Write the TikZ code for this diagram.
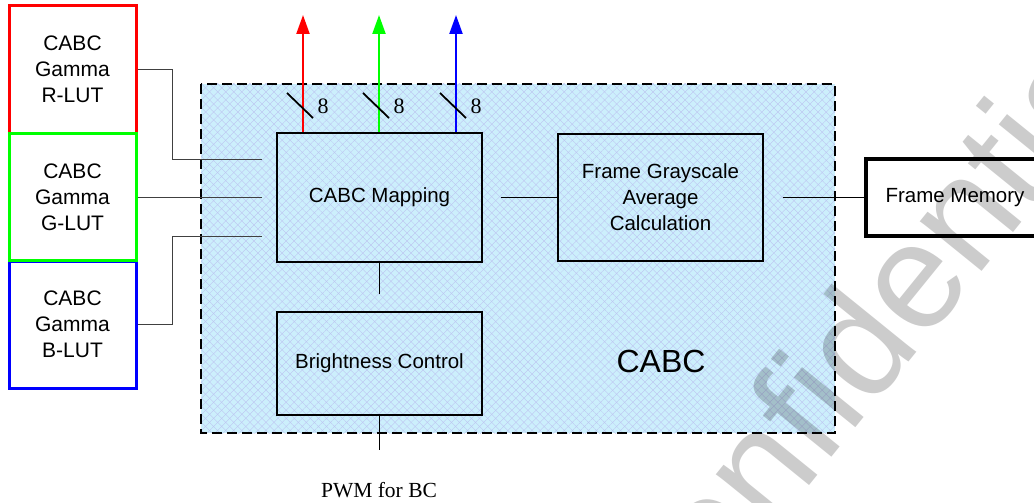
\documentclass[tikz,border=0pt]{standalone}
\usepackage{fontspec}
\setmainfont{Liberation Sans}
\newfontfamily\tnr{Liberation Serif}
\usetikzlibrary{arrows.meta,patterns.meta}
\definecolor{hatch}{RGB}{188,194,240}
\tikzset{
  lut/.style={draw, line width=3pt, minimum width=127pt, minimum height=127pt, align=center, font=\fontsize{21}{26}\selectfont},
  blk/.style={draw, line width=1.8pt, align=center, font=\fontsize{20.5}{26}\selectfont},
  wire/.style={black!75, line width=0.9pt},
  link/.style={black, line width=1.8pt},
  bus/.style={line width=2.3pt, -{Triangle[length=19pt,width=13pt]}},
}

\begin{document}
\begin{tikzpicture}[x=1pt,y=-1pt]
	\useasboundingbox (0,0) rectangle (1034,503);
	\clip (0,0) rectangle (1034,503);
	% CABC region
	\fill[cyan!20] (201,84) rectangle (835,433);
	\fill[pattern={Lines[angle=45,distance=5.7pt,line width=0.35pt]}, pattern color=hatch] (201,84) rectangle (835,433);
	\fill[pattern={Lines[angle=-45,distance=5.7pt,line width=0.35pt]}, pattern color=hatch] (201,84) rectangle (835,433);
	\draw[line width=2pt, dash pattern=on 10pt off 5pt] (201,84) rectangle (835,433);
	\node[font=\fontsize{32}{32}\selectfont] (cabc) at (661,361) {CABC};
	% gamma LUTs
	\node[lut, red] (rlut) at (72.5,69.5) {\color{black}CABC\\\color{black}Gamma\\\color{black}R-LUT};
	\node[lut, blue] (blut) at (72.5,324.5) {\color{black}CABC\\\color{black}Gamma\\\color{black}B-LUT};
	\node[lut, green] (glut) at (72.5,197) {\color{black}CABC\\\color{black}Gamma\\\color{black}G-LUT};
	% blocks
	\node[blk, minimum width=205pt, minimum height=129pt] (map) at (379.5,197.5) {CABC Mapping};
	\node[blk, minimum width=205pt, minimum height=127pt] (fga) at (660.5,197.5) {Frame Grayscale\\Average\\Calculation};
	\node[blk, minimum width=205pt, minimum height=103pt] (bc) at (379.5,363.5) {Brightness Control};
	\node[blk, line width=3.5pt, minimum width=178pt, minimum height=77pt] (fmem) at (955,197.5) {Frame Memory};
	% LUT inputs
	\coordinate (rin) at (262,159);
	\coordinate (gin) at (262,197);
	\coordinate (bin) at (262,236);
	\draw[wire] (rlut.east) -| (172,159) -- (rin);
	\draw[wire] (glut.east) -- (gin);
	\draw[wire] (blut.east) -| (172,236) -- (bin);
	% data path
	\draw[link] ([xshift=18pt]map.east) -- (fga.west);
	\draw[link] ([xshift=19pt]fga.east) -- (fmem.west);
	\draw[link] (map.south) -- ++(0,31);
	\draw[link] (bc.south) -- ++(0,34);
	\node[font=\tnr\fontsize{21.5}{21.5}\selectfont] (pwm) at (379,490) {PWM for BC};
	% RGB outputs
	\foreach \c/\x in {red/303,green/379,blue/456} {
		\draw[bus, \c] (\x,0 |- map.north) -- (\x,15);
		\draw[line width=1.8pt] (\x-16,93) -- (\x+10,118);
		\node[font=\tnr\fontsize{22}{22}\selectfont] at (\x+20,106) {8};
	}
	% watermark
	\node[rotate=51, font=\fontsize{150}{150}\selectfont, text=black, opacity=0.2] (wm) at (858,340) {Confidential};
\end{tikzpicture}
\end{document}
